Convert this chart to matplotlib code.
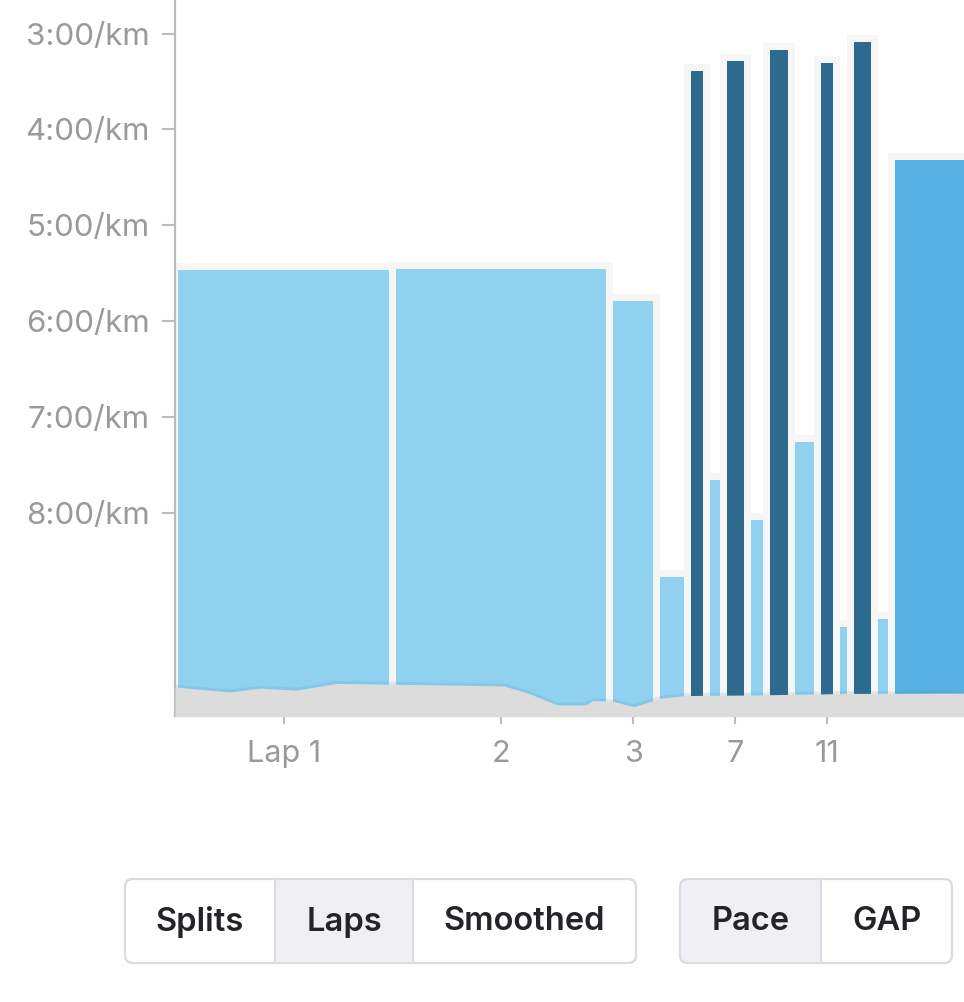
import matplotlib.pyplot as plt
from matplotlib.patches import FancyBboxPatch, Rectangle

# lap data (distance in km, pace in min/km)
lap_dist = [1.0, 0.995, 0.213, 0.142, 0.087, 0.080, 0.108, 0.087, 0.115, 0.122, 0.087, 0.062, 0.112, 0.078, 1.0]
lap_pace = [5.47, 5.46, 5.79, 8.67, 3.39, 7.66, 3.29, 8.08, 3.17, 7.26, 3.31, 9.19, 3.09, 9.11, 4.32]
lap_zone = ['easy', 'easy', 'easy', 'easy', 'fast', 'easy', 'fast', 'easy', 'fast', 'easy',
            'fast', 'easy', 'fast', 'easy', 'tempo']
zone_colors = {'easy': '#8fd1ef', 'fast': '#2d6a8d', 'tempo': '#58b1e3'}

tick_laps = [1, 2, 3, 7, 11]
pace_ticks = [3, 4, 5, 6, 7, 8]
pace_labels = ['3:00/km', '4:00/km', '5:00/km', '6:00/km', '7:00/km', '8:00/km']

# elevation profile
elev_dist = [0.0, 0.248, 0.394, 0.555, 0.739, 0.982, 1.509, 1.624, 1.752, 1.885, 1.917, 1.982,
             2.014, 2.106, 2.229, 2.335, 2.683, 3.096, 3.62]
elev_m = [30.05, 29.35, 29.9, 29.6, 30.55, 30.45, 30.2, 29.15, 27.55, 27.55, 28.15, 28.1,
          28.0, 27.3, 28.5, 28.85, 28.95, 29.15, 29.2]

plt.rcParams['font.family'] = ['Inter', 'DejaVu Sans']

W, H = 964, 1002
fig = plt.figure(figsize=(W / 100, H / 100), dpi=100)
ax = fig.add_axes([175 / W, (H - 716) / H, 1 - 175 / W, 716 / H])

y_top, y_bot = 2.65, 10.12
ax.set_ylim(y_bot, y_top)
ax.set_xlim(0, 3.62)

starts = [sum(lap_dist[:i]) for i in range(len(lap_dist))]
centers = [s + d / 2 for s, d in zip(starts, lap_dist)]
gap = 7 / 218
widths = [d - gap for d in lap_dist]
heights = [y_bot - p for p in lap_pace]
colors = [zone_colors[z] for z in lap_zone]

# light halo behind each bar
halo = ax.bar(centers, heights, bottom=lap_pace, width=widths, color='#f6f6f6',
              edgecolor='#f6f6f6', linewidth=10, zorder=1)
for b in halo:
    b.set_joinstyle('miter')
ax.bar(centers, heights, bottom=lap_pace, width=widths, color=colors, linewidth=0, zorder=2)

# elevation
ax2 = ax.twinx()
ax2.set_ylim(26, 126)
ax2.plot(elev_dist, elev_m, color='#3d7fa8', alpha=0.12, lw=3.5, zorder=1)
ax2.fill_between(elev_dist, 0, elev_m, color='#dcdcdc', lw=0, zorder=2)
ax2.axis('off')

for side in ['top', 'right']:
    ax.spines[side].set_visible(False)
for side in ['left', 'bottom']:
    ax.spines[side].set_color('#bbbbbb')
    ax.spines[side].set_linewidth(1.6)
    ax.spines[side].set_zorder(5)

ax.set_yticks(pace_ticks)
ax.set_yticklabels(pace_labels)
ax.set_xticks([centers[i - 1] for i in tick_laps])
ax.set_xticklabels(['Lap %d' % i if i == 1 else str(i) for i in tick_laps])
ax.tick_params(axis='y', length=9.5, width=1.5, color='#bbbbbb', pad=8.5,
               labelsize=22.5, labelcolor='#9a9a9a')
ax.tick_params(axis='x', length=6, width=1.5, color='#bbbbbb', pad=11,
               labelsize=22, labelcolor='#9a9a9a')

# toggle buttons below the chart
bx = fig.add_axes([0, 0, 1, 1], zorder=10)
bx.set_xlim(0, W)
bx.set_ylim(H, 0)
bx.axis('off')

def button_group(x0, x1, y0, y1, dividers, labels, active):
    box = FancyBboxPatch((x0, y0), x1 - x0, y1 - y0, boxstyle='round,pad=0,rounding_size=8',
                         fc='white', ec='#dcdce0', lw=1.5)
    bx.add_patch(box)
    edges = [x0] + dividers + [x1]
    for i, lab in enumerate(labels):
        if i == active:
            r = Rectangle((edges[i], y0), edges[i + 1] - edges[i], y1 - y0, fc='#f0eff4', lw=0)
            bx.add_patch(r)
            r.set_clip_path(box)
        bx.text((edges[i] + edges[i + 1]) / 2, (y0 + y1) / 2 + 1, lab, ha='center', va='center',
                fontsize=23.5, fontweight='semibold', color='#242428')
    for d in dividers:
        bx.plot([d, d], [y0, y1], color='#dcdce0', lw=1.5)
    border = FancyBboxPatch((x0, y0), x1 - x0, y1 - y0, boxstyle='round,pad=0,rounding_size=8',
                            fc='none', ec='#dcdce0', lw=1.5)
    bx.add_patch(border)

button_group(125, 636, 879, 963, [275, 413], ['Splits', 'Laps', 'Smoothed'], 1)
button_group(680, 952, 879, 963, [821], ['Pace', 'GAP'], 0)

fig.savefig('out.png', dpi=100)
